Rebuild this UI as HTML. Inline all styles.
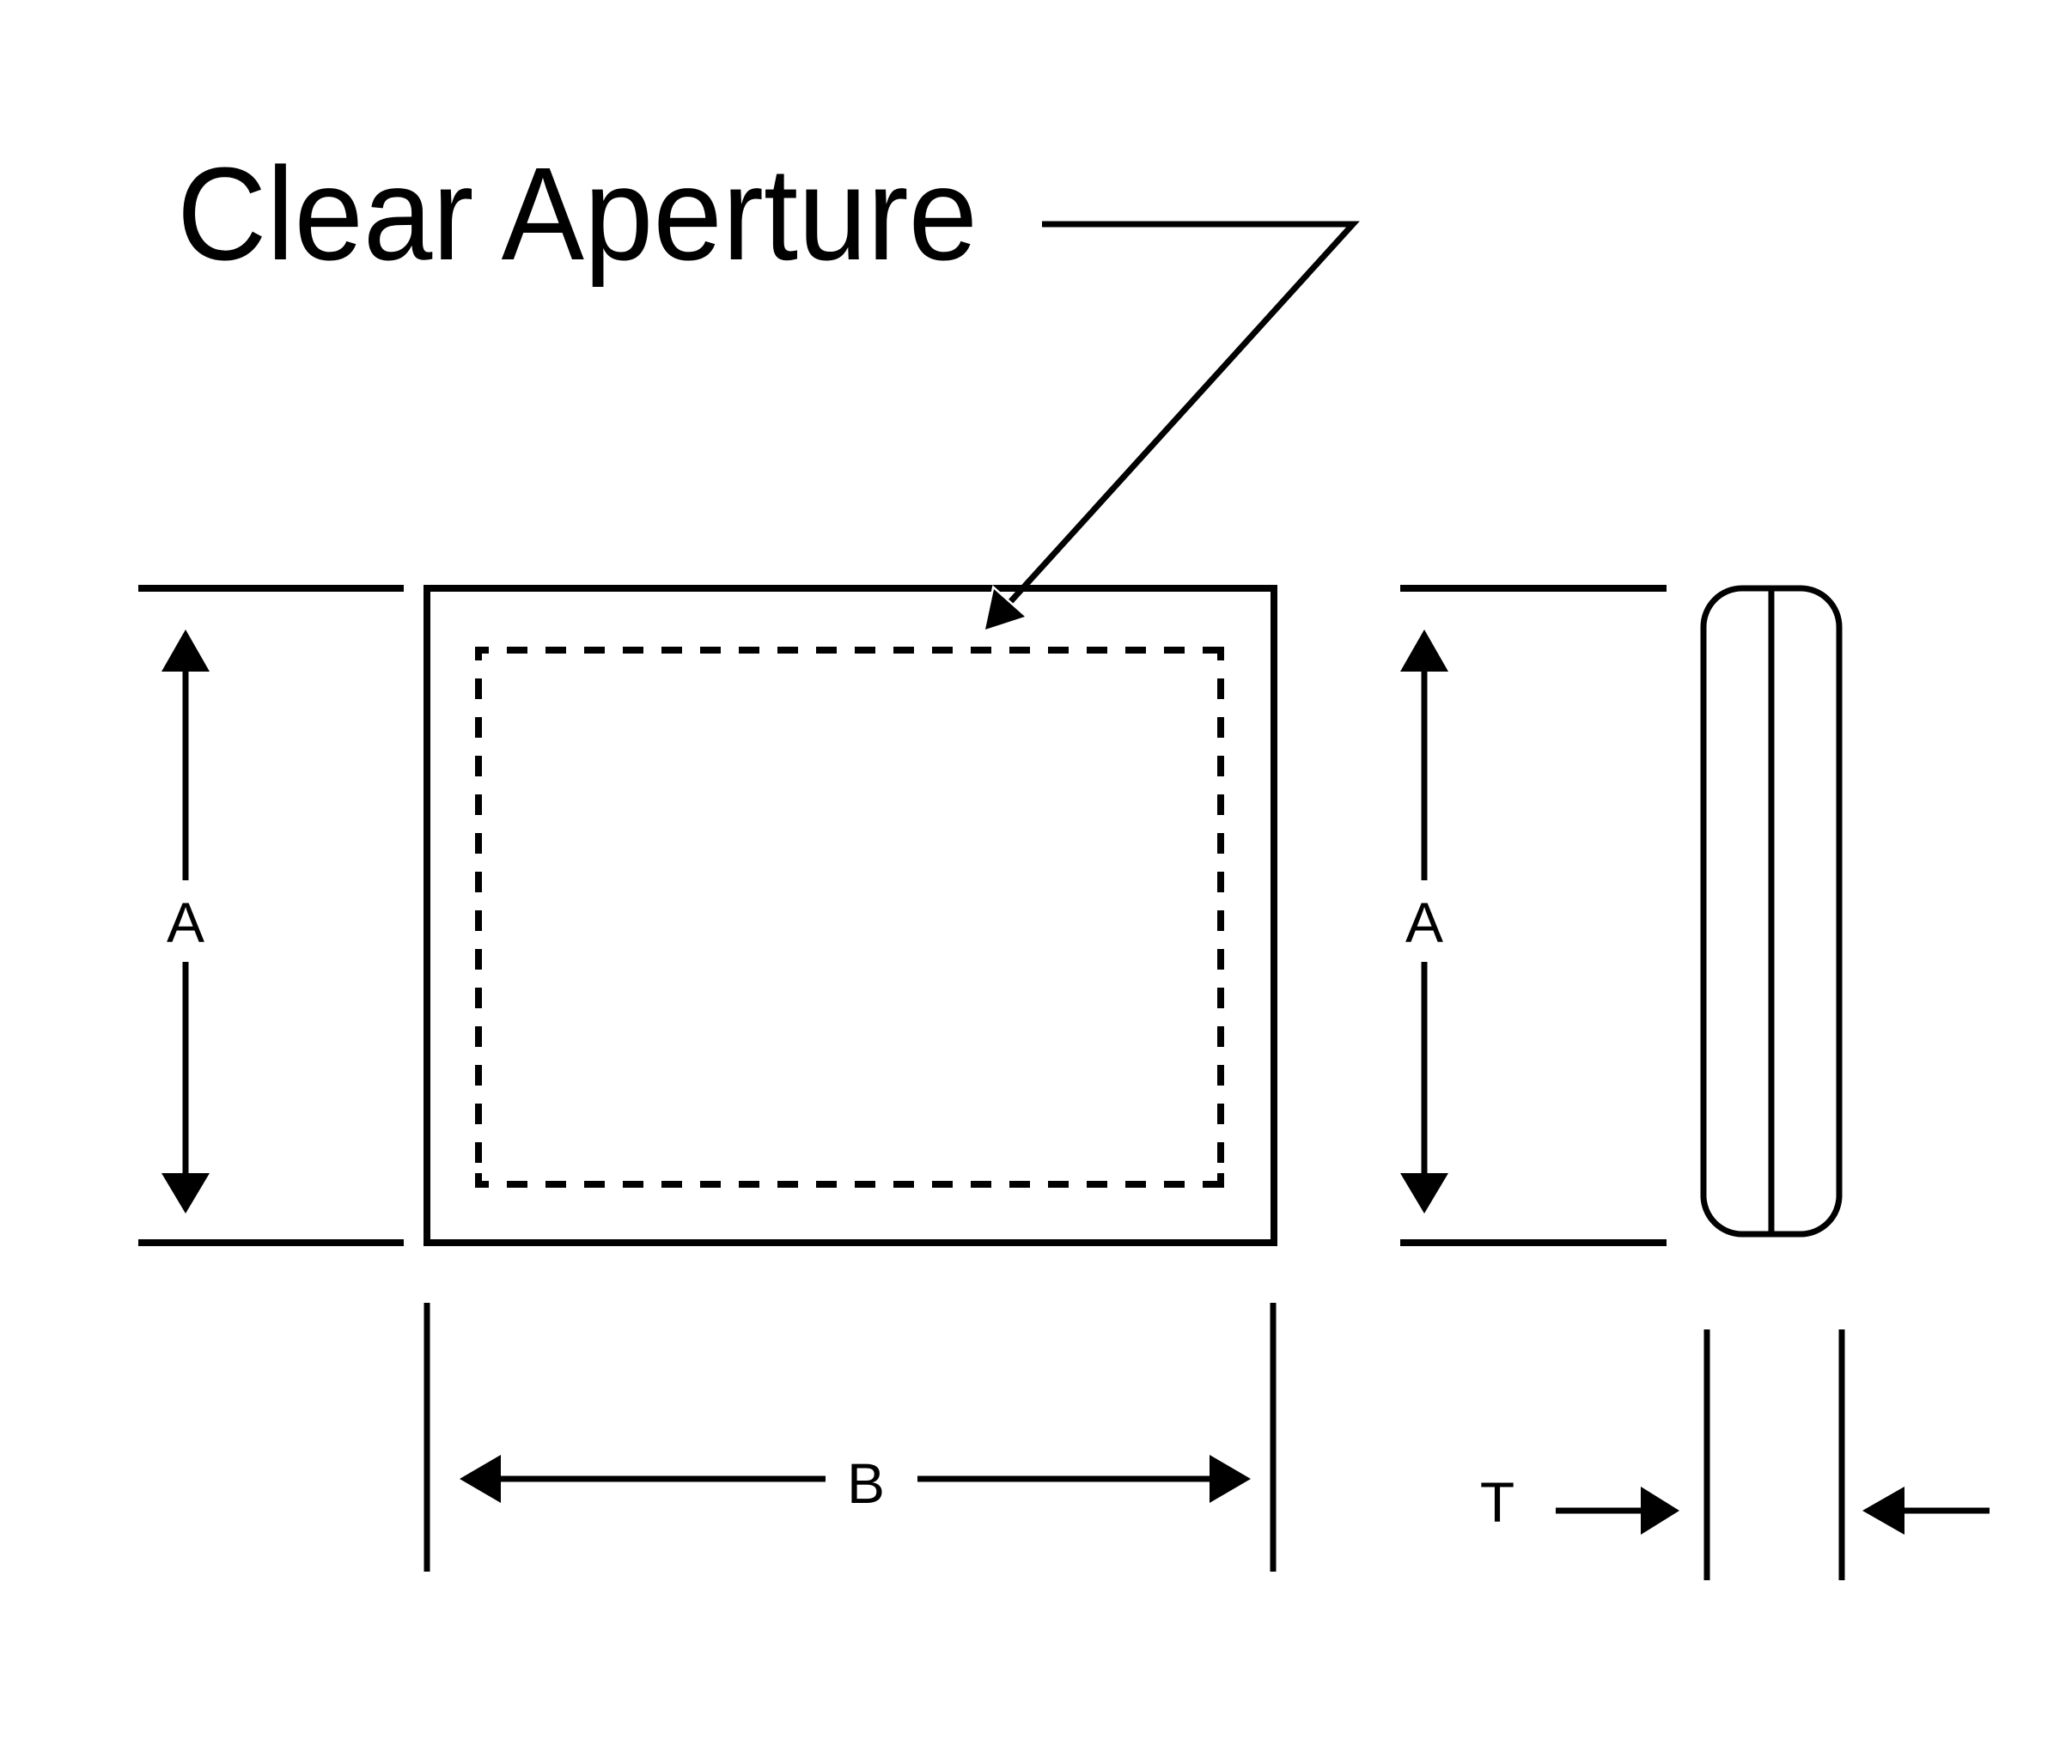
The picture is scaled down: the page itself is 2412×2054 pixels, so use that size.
<!DOCTYPE html>
<html>
<head>
<meta charset="utf-8">
<style>
  html,body{margin:0;padding:0;background:#fff;}
  svg{display:block;}
</style>
</head>
<body>
<svg width="2412" height="2054" viewBox="0 0 2412 2054" xmlns="http://www.w3.org/2000/svg">
  <rect x="0" y="0" width="2412" height="2054" fill="#fff"/>

  <!-- Title -->
  <text x="206" y="302" font-family="Liberation Sans, sans-serif" font-size="154" fill="#000" textLength="932" lengthAdjust="spacingAndGlyphs">Clear Aperture</text>

  <!-- Leader -->
  <polyline points="1213,261 1575,261 1175,702" fill="none" stroke="#000" stroke-width="7" stroke-linejoin="miter"/>

  <!-- Left extension lines -->
  <line x1="161" y1="685" x2="470" y2="685" stroke="#000" stroke-width="8"/>
  <line x1="161" y1="1447" x2="470" y2="1447" stroke="#000" stroke-width="8"/>

  <!-- Main rect -->
  <rect x="497" y="685" width="986" height="762" fill="none" stroke="#000" stroke-width="8"/>

  <!-- Dashed clear aperture -->
  <g stroke="#000" stroke-width="8" fill="none" stroke-dasharray="24 21">
    <line x1="553" y1="757" x2="1425" y2="757" stroke-dashoffset="8"/>
    <line x1="553" y1="1379" x2="1425" y2="1379" stroke-dashoffset="8"/>
    <line x1="557" y1="753" x2="557" y2="1383" stroke-dashoffset="8"/>
    <line x1="1421" y1="753" x2="1421" y2="1383" stroke-dashoffset="8"/>
  </g>
  <g stroke="#000" stroke-width="8" fill="none">
    <line x1="557" y1="1383" x2="557" y2="1366"/>
    <line x1="1421" y1="1383" x2="1421" y2="1366"/>
  </g>

  <!-- Leader arrowhead -->
  <polygon points="1147,733 1193,718 1157,686" fill="#000" stroke="#fff" stroke-width="5" stroke-linejoin="miter"/>
  <polygon points="1147,733 1193,718 1157,686" fill="#000"/>

  <!-- Left A dimension -->
  <line x1="216" y1="780" x2="216" y2="1025" stroke="#000" stroke-width="7"/>
  <line x1="216" y1="1120" x2="216" y2="1370" stroke="#000" stroke-width="7"/>
  <polygon points="216,733 188,782 244,782" fill="#000"/>
  <polygon points="216,1413 188,1366 244,1366" fill="#000"/>
  <text x="216" y="1097" font-family="Liberation Sans, sans-serif" font-size="66" text-anchor="middle" fill="#000">A</text>

  <!-- Right extension lines -->
  <line x1="1630" y1="685" x2="1940" y2="685" stroke="#000" stroke-width="8"/>
  <line x1="1630" y1="1447" x2="1940" y2="1447" stroke="#000" stroke-width="8"/>

  <!-- Right A dimension -->
  <line x1="1658" y1="780" x2="1658" y2="1025" stroke="#000" stroke-width="7"/>
  <line x1="1658" y1="1120" x2="1658" y2="1370" stroke="#000" stroke-width="7"/>
  <polygon points="1658,733 1630,782 1686,782" fill="#000"/>
  <polygon points="1658,1413 1630,1366 1686,1366" fill="#000"/>
  <text x="1658" y="1097" font-family="Liberation Sans, sans-serif" font-size="66" text-anchor="middle" fill="#000">A</text>

  <!-- Side view -->
  <rect x="1983" y="685" width="158" height="752" rx="45" ry="45" fill="none" stroke="#000" stroke-width="7"/>
  <line x1="2062" y1="685" x2="2062" y2="1437" stroke="#000" stroke-width="7"/>

  <!-- B dimension -->
  <line x1="497" y1="1517" x2="497" y2="1830" stroke="#000" stroke-width="7"/>
  <line x1="1482" y1="1517" x2="1482" y2="1830" stroke="#000" stroke-width="7"/>
  <line x1="580" y1="1722" x2="961" y2="1722" stroke="#000" stroke-width="7"/>
  <line x1="1068" y1="1722" x2="1410" y2="1722" stroke="#000" stroke-width="7"/>
  <polygon points="535,1722 583,1694 583,1750" fill="#000"/>
  <polygon points="1456,1722 1408,1694 1408,1750" fill="#000"/>
  <text x="1008" y="1750" font-family="Liberation Sans, sans-serif" font-size="66" text-anchor="middle" fill="#000">B</text>

  <!-- T dimension -->
  <line x1="1987" y1="1548" x2="1987" y2="1840" stroke="#000" stroke-width="7"/>
  <line x1="2144" y1="1548" x2="2144" y2="1840" stroke="#000" stroke-width="7"/>
  <line x1="1811" y1="1759" x2="1912" y2="1759" stroke="#000" stroke-width="7"/>
  <polygon points="1955,1759 1910,1731 1910,1787" fill="#000"/>
  <line x1="2215" y1="1759" x2="2316" y2="1759" stroke="#000" stroke-width="7"/>
  <polygon points="2168,1759 2217,1731 2217,1787" fill="#000"/>
  <text x="1743" y="1772" font-family="Liberation Sans, sans-serif" font-size="66" text-anchor="middle" fill="#000">T</text>
</svg>
</body>
</html>
